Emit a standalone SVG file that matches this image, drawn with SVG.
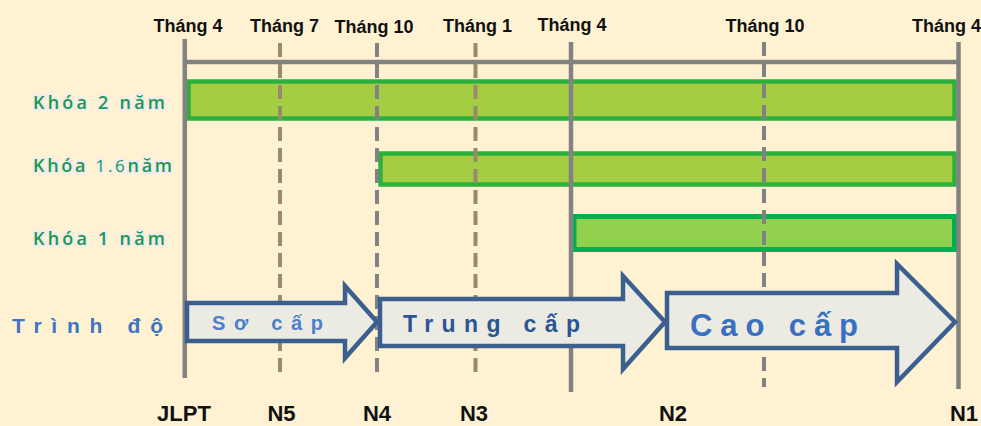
<svg xmlns="http://www.w3.org/2000/svg" width="981" height="426" viewBox="0 0 981 426">
<style>
.top{font-family:"Liberation Sans",Arial,sans-serif;font-weight:bold;font-size:18px;fill:#111;text-anchor:middle}
.bot{font-family:"Liberation Sans",Arial,sans-serif;font-weight:bold;font-size:22px;fill:#111;text-anchor:middle}
.khoa{font-family:"Open Sans","DejaVu Sans",sans-serif;font-weight:600;font-size:18px;fill:#189a4a;stroke:#f2eaf0;stroke-width:4;stroke-linejoin:round;paint-order:stroke}
.solid{stroke:#828282;stroke-width:4.5;fill:none}
.dg{stroke:#828282;stroke-width:4;fill:none;stroke-dasharray:14 7}
.dt{stroke:#978b6b;stroke-width:4;fill:none;stroke-dasharray:14 7}
.bar{fill:#a4cd44;stroke:#2eb03e;stroke-width:4.5}
.bar3{fill:#92d050;stroke:#00b050;stroke-width:5}
.arrow{fill:#ecebe3;stroke:#3b5f8f;stroke-width:4.5;stroke-linejoin:miter}
.lvl{font-family:"Liberation Sans",Arial,sans-serif;font-weight:bold}
</style>
<rect width="981" height="426" fill="#fef2d3"/>

<g id="bars">
  <rect id="bar-2nam" class="bar" x="188.5" y="81.5" width="766" height="37"/>
  <rect id="bar-16nam" class="bar" x="380.5" y="153.5" width="574" height="31"/>
  <rect id="bar-1nam" class="bar3" x="574" y="216.5" width="380.5" height="33"/>
</g>

<g id="connectors">
  <line class="solid" x1="185" y1="62" x2="958" y2="62"/>
  <line class="solid" x1="184.8" y1="39" x2="184.8" y2="378" stroke-width="5"/>
  <line class="dt" x1="280" y1="43" x2="280" y2="378"/>
  <line class="dg" x1="377" y1="43" x2="377" y2="378"/>
  <line class="dt" x1="475.5" y1="43" x2="475.5" y2="378"/>
  <line class="solid" x1="571" y1="42" x2="571" y2="392"/>
  <line class="dg" x1="764" y1="42" x2="764" y2="387"/>
  <line class="solid" x1="958.5" y1="42" x2="958.5" y2="389"/>
</g>

<g id="arrow-socap">
  <polygon class="arrow" points="187,303 345,303 345,286 377,322 345,358 345,341 187,341"/>
  <text class="lvl" x="212" y="330" font-size="20" fill="#4d80cc" textLength="111" lengthAdjust="spacing">Sơ cấp</text>
</g>
<g id="arrow-trungcap">
  <polygon class="arrow" points="380,299 623,299 623,276 665,322 623,369 623,346 380,346"/>
  <text class="lvl" x="403" y="332" font-size="23" fill="#2a5594" textLength="177" lengthAdjust="spacing">Trung cấp</text>
</g>
<g id="arrow-caocap">
  <polygon class="arrow" points="667,293 897,293 897,264 955,322 897,382 897,348 667,348"/>
  <text class="lvl" x="690" y="336" font-size="31" fill="#3a70c0" textLength="168" lengthAdjust="spacing">Cao cấp</text>
</g>

<g id="labels-top">
  <text class="top" x="188" y="32">Tháng 4</text>
  <text class="top" x="284.5" y="32">Tháng 7</text>
  <text class="top" x="374" y="33">Tháng 10</text>
  <text class="top" x="477.5" y="32">Tháng 1</text>
  <text class="top" x="572" y="31">Tháng 4</text>
  <text class="top" x="765" y="32">Tháng 10</text>
  <text class="top" x="946.5" y="32">Tháng 4</text>
</g>

<g id="labels-khoa">
  <text class="khoa" x="33" y="109" textLength="132" lengthAdjust="spacing">Khóa 2 năm</text>
  <text class="khoa" x="33" y="172" textLength="139" lengthAdjust="spacing">Khóa <tspan font-size="17" font-weight="normal">1.6</tspan>năm</text>
  <text class="khoa" x="33" y="245" textLength="132" lengthAdjust="spacing">Khóa 1 năm</text>
</g>

<g id="label-trinhdo">
  <text class="lvl" x="12" y="333" font-size="21" fill="#3d74c4" textLength="151" lengthAdjust="spacing">Trình độ</text>
</g>

<g id="labels-jlpt">
  <text class="bot" x="184" y="421">JLPT</text>
  <text class="bot" x="281.5" y="421">N5</text>
  <text class="bot" x="377" y="421">N4</text>
  <text class="bot" x="474" y="421">N3</text>
  <text class="bot" x="673" y="421">N2</text>
  <text class="bot" x="964" y="421">N1</text>
</g>
</svg>
